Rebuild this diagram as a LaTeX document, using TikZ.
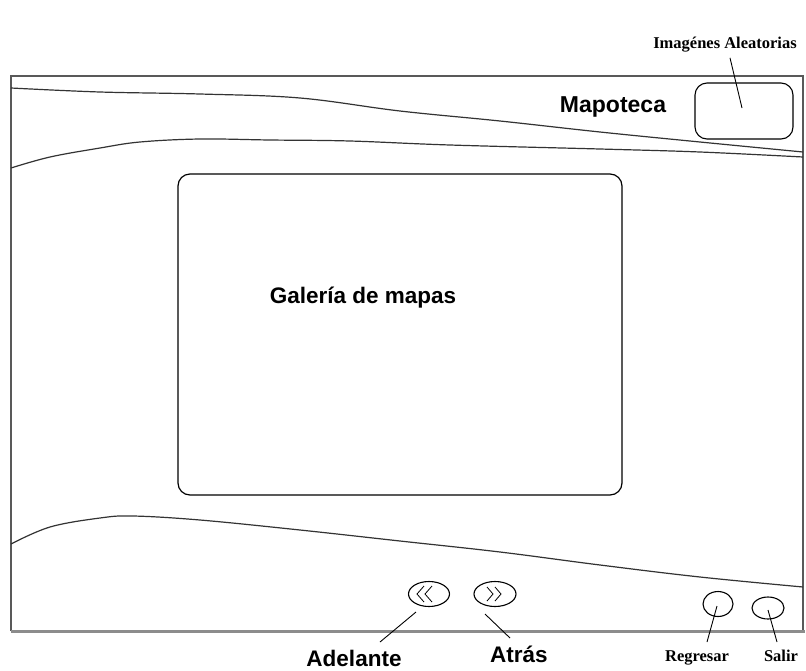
\documentclass[tikz,border=0pt]{standalone}
\usepackage{fontspec}
\setmainfont{Liberation Serif}
\newfontfamily\arialf{Liberation Sans}
\usetikzlibrary{shapes.geometric,calc}
\begin{document}
\begin{tikzpicture}[x=1pt,y=-1pt,
  frameline/.style={draw=black!65,line width=1.3pt},
  curveline/.style={draw=black!80,line width=1.2pt},
  panel/.style={draw=black,line width=1.2pt,rounded corners=12pt},
  button/.style={ellipse,draw=black,line width=1.1pt,inner sep=0pt},
  leader/.style={draw=black,line width=0.9pt},
  sanslbl/.style={font=\arialf\bfseries\fontsize{22.5}{24}\selectfont,inner sep=0pt,anchor=base},
  seriflbl/.style={font=\bfseries\fontsize{16.5}{18}\selectfont,inner sep=0pt,anchor=base},
  chev/.style={draw=black,line width=0.8pt}]
\useasboundingbox[fill=white] (0,0) rectangle (806,670);
% frame
\draw[frameline] (11,631) -- (11,76) -- (803,76) -- (803,631);
\draw[draw=black!45,line width=3pt] (11,631) -- (805,631);
% curves
\draw[curveline] plot[smooth,tension=0.6] coordinates {(11,88) (100,92) (200,94) (300,98) (400,111) (500,121) (600,132) (700,142) (803,152)};
\draw[curveline] plot[smooth,tension=0.6] coordinates {(11,168) (50,157) (100,148) (140,142) (200,139) (270,140) (350,141) (450,145) (600,149) (700,152) (803,157)};
\draw[curveline] plot[smooth,tension=0.6] coordinates {(11,544) (50,527) (100,518) (133,516) (200,520) (300,530) (400,541) (500,552) (600,565) (700,577) (803,587)};
% main panel
\node[panel,minimum width=444pt,minimum height=321pt] (gal) at (400,334.5) {};
\node[sanslbl] (galtxt) at (363,303) {Galería de mapas};
% title and random images box
\node[sanslbl,font=\arialf\bfseries\fontsize{23}{24}\selectfont] (mapo) at (613,112) {Mapoteca};
\node[panel,line width=1.1pt,minimum width=98pt,minimum height=56pt] (imgbox) at (744,111) {};
\node[seriflbl] (imglbl) at (725,48) {Imagénes Aleatorias};
\coordinate (imgpt) at (742,108);
\draw[leader] ($(imglbl.south)+(5,6)$) -- (imgpt);
% nav buttons
\node[button,minimum width=41pt,minimum height=25pt] (bl) at (429,594) {};
\node[button,minimum width=42pt,minimum height=25pt] (br) at (495,594) {};
\draw[chev] ($(bl)+(-5,-8)$) -- ($(bl)+(-12,0)$) -- ($(bl)+(-5,8)$);
\draw[chev] ($(bl)+(3,-8)$) -- ($(bl)+(-4,0)$) -- ($(bl)+(3,8)$);
\draw[chev] ($(br)+(-8,-7)$) -- ($(br)+(-2,0)$) -- ($(br)+(-8,7)$);
\draw[chev] ($(br)+(0,-7)$) -- ($(br)+(6,0)$) -- ($(br)+(0,7)$);
\node[sanslbl] (adel) at (354,666) {Adelante};
\node[sanslbl] (atras) at (519,662) {Atrás};
\coordinate (adelpt) at (380,642);
\coordinate (atraspt) at (510,638);
\draw[leader] ($(bl)+(-13,18)$) -- (adelpt);
\draw[leader] ($(br)+(-10,20)$) -- (atraspt);
% return / exit buttons
\node[button,minimum width=30pt,minimum height=25pt] (reg) at (718,604) {};
\node[button,minimum width=32pt,minimum height=22pt] (sal) at (768,608) {};
\node[seriflbl] (reglbl) at (697,661) {Regresar};
\node[seriflbl] (sallbl) at (781,661) {Salir};
\coordinate (regpt) at (707,642);
\coordinate (salpt) at (777,642);
\draw[leader] ($(reg)+(-1,2)$) -- (regpt);
\draw[leader] ($(sal)+(0,2)$) -- (salpt);
\end{tikzpicture}
\end{document}
